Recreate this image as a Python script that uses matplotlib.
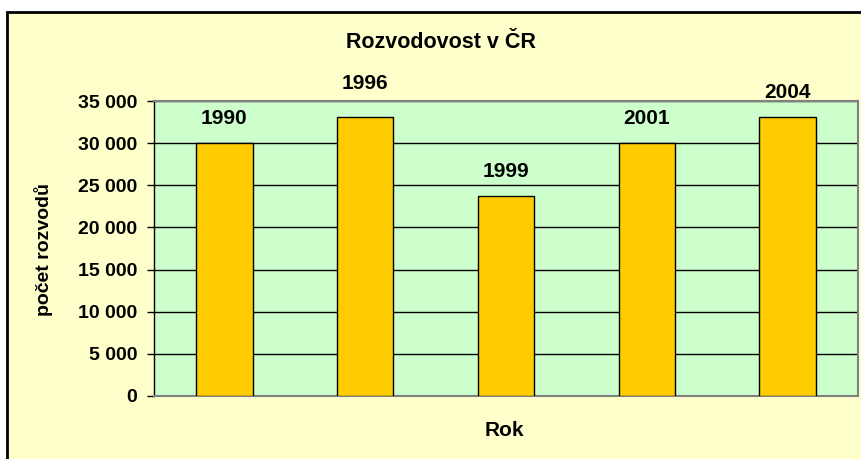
import matplotlib
matplotlib.use("Agg")
import matplotlib.pyplot as plt
from matplotlib.patches import Rectangle
from matplotlib.ticker import FuncFormatter, MultipleLocator

plt.rcParams["font.family"] = ["Liberation Sans", "DejaVu Sans"]
plt.rcParams["font.weight"] = "bold"

years = ["1990", "1996", "1999", "2001", "2004"]
divorces = [30000, 33100, 23700, 30000, 33100]

# label offsets above bars in points (1996 label was nudged up in the original)
label_offset = {"1996": 20}

fig = plt.figure(figsize=(8.62, 4.59), dpi=100, facecolor="white")
# chart area with black border
fig.patches.append(Rectangle((7 / 862, -0.01), 1.0, 1 - 12 / 459 + 0.01,
                             transform=fig.transFigure, facecolor="#FFFFCC",
                             edgecolor="black", linewidth=2, zorder=0))

ax = fig.add_axes([154 / 862, 1 - 396 / 459, 704 / 862, 295 / 459])
ax.set_zorder(2)
ax.set_facecolor("#CCFFCC")

x = range(len(years))
bars = ax.bar(x, divorces, width=0.4, color="#FFCC00", edgecolor="black",
              linewidth=1, zorder=3)
for xi, v, lab in zip(x, divorces, years):
    ax.annotate(lab, (xi, v), xytext=(0, label_offset.get(lab, 13.5)),
                textcoords="offset points", ha="center", va="baseline",
                fontsize=15, fontweight="bold")

ax.set_xlim(-0.5, len(years) - 0.5)
ax.set_ylim(0, 35000)
ax.yaxis.set_major_locator(MultipleLocator(5000))
ax.yaxis.set_major_formatter(FuncFormatter(lambda v, p: f"{int(v):,}".replace(",", " ")))
ax.set_xticks([])
ax.grid(axis="y", color="black", linewidth=1, zorder=1)
ax.set_axisbelow(True)
ax.tick_params(axis="y", length=5, width=1, pad=7, labelsize=14)
for lbl in ax.get_yticklabels():
    lbl.set_fontweight("bold")

for s in ["top", "right", "bottom"]:
    ax.spines[s].set_color("#808080")
    ax.spines[s].set_linewidth(1.5)
ax.spines["left"].set_color("black")
ax.spines["left"].set_linewidth(1)

fig.text(441 / 862, 1 - 42 / 459, "Rozvodovost v ČR", ha="center", va="center",
         fontsize=15.5, fontweight="bold")
fig.text(504 / 862, 1 - 431 / 459, "Rok", ha="center", va="center",
         fontsize=15, fontweight="bold")
fig.text(44 / 862, 1 - 250 / 459, "počet rozvodů", ha="center", va="center",
         rotation=90, fontsize=14, fontweight="bold")

fig.savefig("out.png", dpi=100)
